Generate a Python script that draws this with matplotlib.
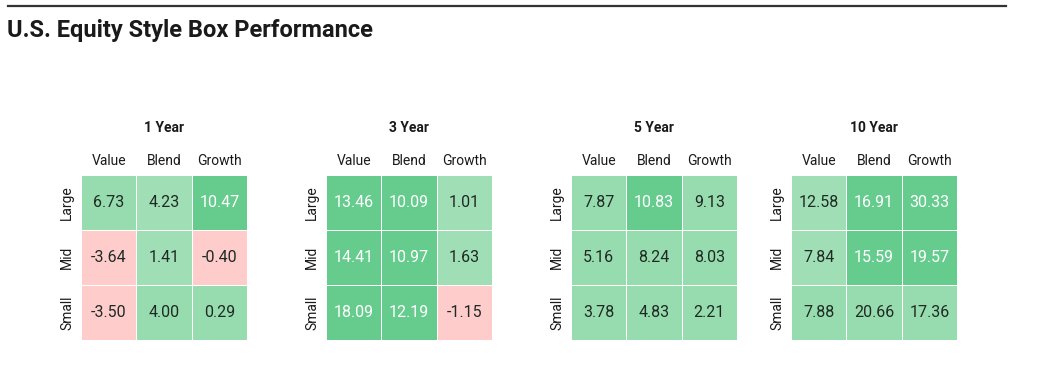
import numpy as np
import matplotlib
matplotlib.use('Agg')
import matplotlib.pyplot as plt
from matplotlib.colors import ListedColormap

plt.rcParams['font.family'] = ['Roboto', 'DejaVu Sans']

periods = ['1 Year', '3 Year', '5 Year', '10 Year']
styles = ['Value', 'Blend', 'Growth']
sizes = ['Large', 'Mid', 'Small']

returns = {
    '1 Year': [[6.73, 4.23, 10.47], [-3.64, 1.41, -0.40], [-3.50, 4.00, 0.29]],
    '3 Year': [[13.46, 10.09, 1.01], [14.41, 10.97, 1.63], [18.09, 12.19, -1.15]],
    '5 Year': [[7.87, 10.83, 9.13], [5.16, 8.24, 8.03], [3.78, 4.83, 2.21]],
    '10 Year': [[12.58, 16.91, 30.33], [7.84, 15.59, 19.57], [7.88, 20.66, 17.36]],
}
# shade of each box as drawn: 0 negative, 1 light, 2 medium, 3 dark
shades = {
    '1 Year': [[2, 1, 3], [0, 1, 0], [0, 2, 2]],
    '3 Year': [[3, 3, 1], [3, 3, 1], [3, 3, 0]],
    '5 Year': [[2, 3, 2], [2, 2, 2], [2, 2, 2]],
    '10 Year': [[1, 3, 3], [1, 3, 3], [2, 2, 2]],
}

cmap = ListedColormap(['#ffcccc', '#a0dfb5', '#97dcae', '#66cc8e'])
text_dark = '#1f2a24'

fig = plt.figure(figsize=(10.62, 3.66), dpi=100)
W, H = 1062, 366

# rule and heading
fig.add_artist(plt.Line2D([8 / W, 1006 / W], [1 - 6 / H, 1 - 6 / H], color='#333333', lw=1.6))
fig.text(7 / W, 1 - 30 / H, 'U.S. Equity Style Box Performance', fontsize=17,
         fontweight='bold', color='#1a1a1a', va='center', ha='left')

lefts = [81, 326, 571, 791]
for left, per in zip(lefts, periods):
    ax = fig.add_axes([left / W, 26 / H, 166 / W, 165 / H])
    vals = np.array(returns[per])
    lev = np.array(shades[per])
    ax.pcolormesh(lev, cmap=cmap, vmin=-0.5, vmax=3.5, edgecolors='white', linewidth=0.6)
    ax.set_xlim(0, 3)
    ax.set_ylim(3, 0)
    for i in range(3):
        for j in range(3):
            c = 'white' if lev[i, j] == 3 else text_dark
            ax.text(j + 0.5, i + 0.5, f'{vals[i, j]:.2f}', ha='center', va='center',
                    fontsize=11.5, color=c)
    ax.set_xticks(np.arange(3) + 0.5)
    ax.set_xticklabels(styles, fontsize=10, color='#1a1a1a')
    ax.xaxis.tick_top()
    ax.set_yticks(np.arange(3) + 0.5)
    ax.set_yticklabels(sizes, fontsize=10, rotation=90, va='center', color='#1a1a1a')
    ax.tick_params(length=0, pad=5)
    for s in ax.spines.values():
        s.set_visible(False)
    ax.set_title(per, fontsize=10, fontweight='bold', pad=31, color='#1a1a1a')

fig.savefig('out.png', dpi=100)
